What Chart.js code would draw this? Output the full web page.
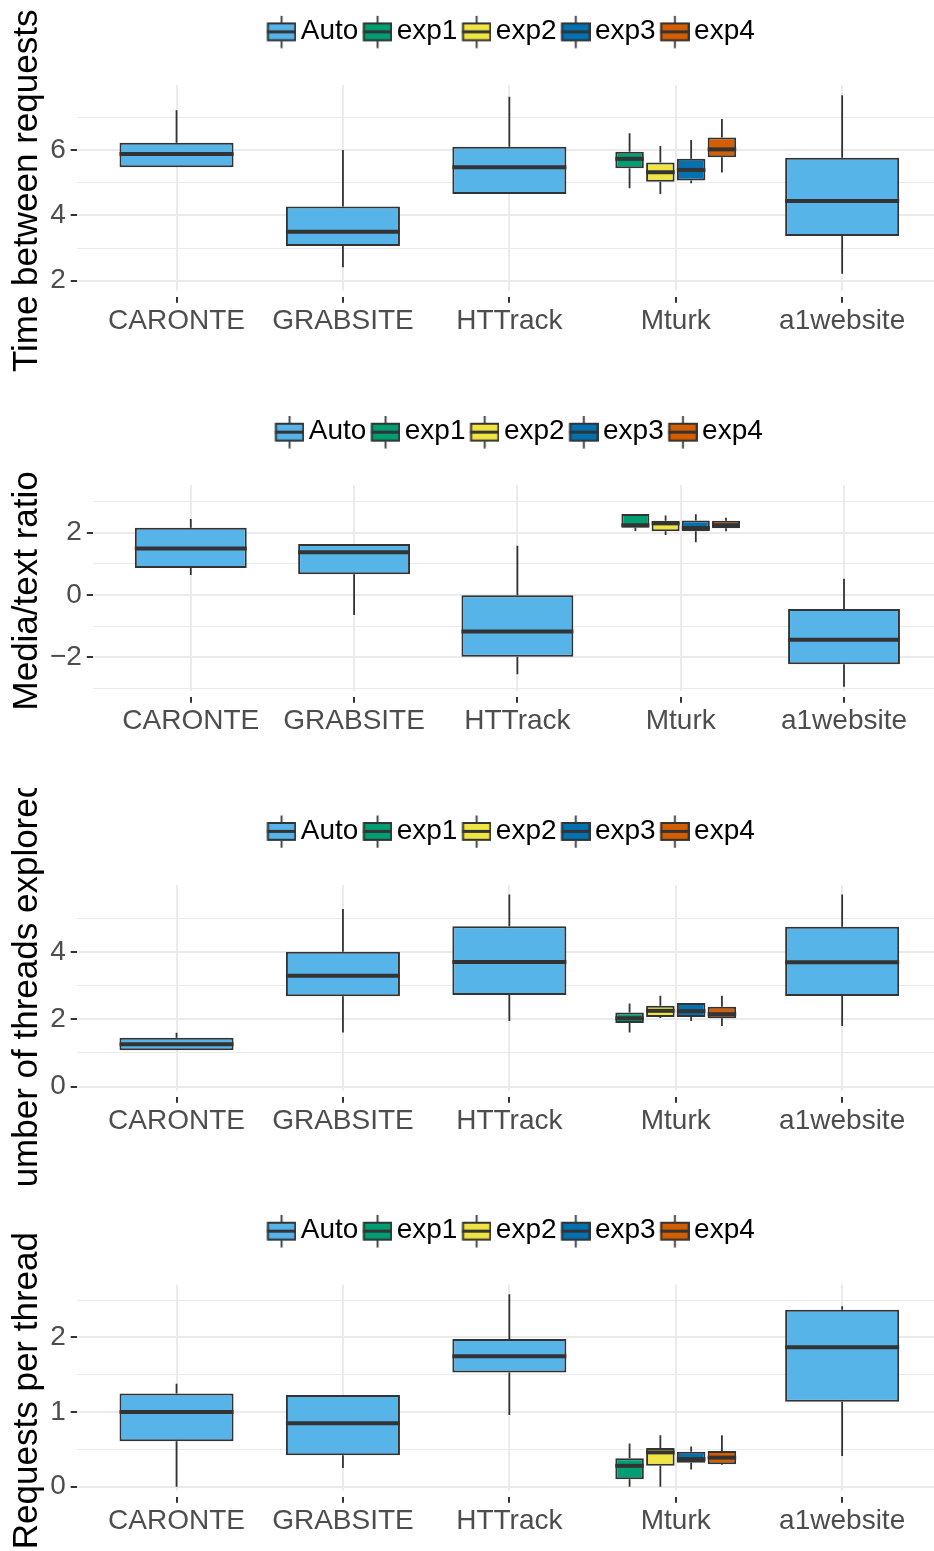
<!DOCTYPE html>
<html>
<head>
<meta charset="utf-8">
<title>Crawler comparison boxplots</title>
<script src="https://cdn.jsdelivr.net/npm/chart.js@4.4.1/dist/chart.umd.min.js"></script>
<style>
  html, body { margin: 0; padding: 0; background: #fff; }
  #wrap { position: relative; width: 934px; height: 1551px; overflow: hidden; background: #fff; }
  #wrap canvas { position: absolute; left: 0; }
</style>
</head>
<body>
<div id="wrap">
  <canvas id="chart-time" width="942" height="388" style="top:0px"></canvas>
  <canvas id="chart-media" width="942" height="400" style="top:388px"></canvas>
  <canvas id="chart-threads" width="942" height="400" style="top:788px"></canvas>
  <canvas id="chart-requests" width="942" height="363" style="top:1188px"></canvas>
</div>
<script>
(function () {
  const categories = ['CARONTE', 'GRABSITE', 'HTTrack', 'Mturk', 'a1website'];
  const groups = ['Auto', 'exp1', 'exp2', 'exp3', 'exp4'];
  const groupColors = ['#56B4E9', '#009E73', '#F0E442', '#0072B2', '#D55E00'];

  // one box = [lower whisker, q1, median, q3, upper whisker]
  // Auto has no Mturk box, Mturk only has exp1..exp4
  const timeAuto = [
    [5.47, 5.47, 5.88, 6.22, 7.22],
    [2.41, 3.06, 3.50, 4.27, 6.00],
    [4.65, 4.65, 5.47, 6.10, 7.63],
    null,
    [2.21, 3.37, 4.44, 5.76, 7.68],
  ];
  const timeMturk = [
    [4.83, 5.44, 5.73, 5.95, 6.51],
    [4.65, 5.03, 5.32, 5.62, 6.12],
    [4.98, 5.07, 5.39, 5.73, 6.31],
    [5.31, 5.78, 6.02, 6.38, 6.95],
  ];
  const timeRange = [1.51, 7.99];
  const timeMajor = [2, 4, 6];
  const timeLabels = ['2', '4', '6'];
  const timeMinor = [3, 5, 7];

  const mediaAuto = [
    [0.64, 0.87, 1.49, 2.16, 2.44],
    [-0.64, 0.67, 1.37, 1.64, 1.64],
    [-2.54, -1.98, -1.17, -0.01, 1.58],
    null,
    [-2.94, -2.22, -1.43, -0.45, 0.52],
  ];
  const mediaMturk = [
    [2.05, 2.16, 2.24, 2.60, 2.60],
    [1.93, 2.05, 2.30, 2.38, 2.55],
    [1.69, 2.05, 2.15, 2.39, 2.59],
    [2.05, 2.14, 2.24, 2.38, 2.48],
  ];
  const mediaRange = [-3.26, 3.53];
  const mediaMajor = [-2, 0, 2];
  const mediaLabels = ['\u22122', '0', '2'];
  const mediaMinor = [-3, -1, 1, 3];

  const threadsAuto = [
    [1.08, 1.08, 1.26, 1.45, 1.60],
    [1.61, 2.68, 3.29, 4.00, 5.27],
    [1.95, 2.72, 3.70, 4.76, 5.70],
    null,
    [1.80, 2.69, 3.69, 4.74, 5.70],
  ];
  const threadsMturk = [
    [1.61, 1.89, 2.03, 2.20, 2.47],
    [2.04, 2.07, 2.25, 2.40, 2.70],
    [1.95, 2.07, 2.24, 2.48, 2.48],
    [1.80, 2.03, 2.15, 2.37, 2.70],
  ];
  const threadsRange = [-0.296, 5.98];
  const threadsMajor = [0, 2, 4];
  const threadsLabels = ['0', '2', '4'];
  const threadsMinor = [1, 3, 5];

  const requestsAuto = [
    [0.00, 0.61, 1.00, 1.25, 1.38],
    [0.25, 0.42, 0.85, 1.23, 1.23],
    [0.96, 1.53, 1.75, 1.98, 2.58],
    null,
    [0.41, 1.14, 1.87, 2.37, 2.42],
  ];
  const requestsMturk = [
    [0.00, 0.10, 0.28, 0.38, 0.58],
    [0.00, 0.28, 0.46, 0.52, 0.69],
    [0.23, 0.32, 0.37, 0.47, 0.54],
    [0.29, 0.30, 0.39, 0.48, 0.69],
  ];
  const requestsRange = [-0.134, 2.71];
  const requestsMajor = [0, 1, 2];
  const requestsLabels = ['0', '1', '2'];
  const requestsMinor = [0.5, 1.5, 2.5];

  const LINE = '#333333';
  const GRID = '#EBEBEB';
  const TICK_TEXT = '#4D4D4D';
  const FONT = 28;
  const LEGEND_PAD = 1.6;
  const LEGEND_BOX = 22.8;
  const LEGEND_H = FONT + LEGEND_PAD + 10;

  Chart.defaults.font.family = "'Liberation Sans', Arial, Helvetica, sans-serif";
  Chart.defaults.color = TICK_TEXT;

  // layout of each panel inside its own canvas (chart area edges, legend offset)
  const panels = [
    {
      id: 'chart-time', title: 'Time between requests', auto: timeAuto, mturk: timeMturk,
      range: timeRange, major: timeMajor, labels: timeLabels, minor: timeMinor,
      height: 388, padTop: 15.8, top: 85, bottom: 296.7, left: 76.7,
    },
    {
      id: 'chart-media', title: 'Media/text ratio', auto: mediaAuto, mturk: mediaMturk,
      range: mediaRange, major: mediaMajor, labels: mediaLabels, minor: mediaMinor,
      height: 400, padTop: 28.1, top: 97, bottom: 308.7, left: 92.8,
    },
    {
      // trailing space keeps the clipped title where the original sits
      id: 'chart-threads', title: 'Number of threads explored ', auto: threadsAuto, mturk: threadsMturk,
      range: threadsRange, major: threadsMajor, labels: threadsLabels, minor: threadsMinor,
      height: 400, padTop: 27.4, top: 97, bottom: 308.7, left: 76.7,
    },
    {
      id: 'chart-requests', title: 'Requests per thread', auto: requestsAuto, mturk: requestsMturk,
      range: requestsRange, major: requestsMajor, labels: requestsLabels, minor: requestsMinor,
      height: 363, padTop: 27.1, top: 96.5, bottom: 308.7, left: 76.7,
    },
  ];

  // ggplot style legend key: small box with median and whisker stubs
  function legendKey(color) {
    const c = document.createElement('canvas');
    c.width = 42;
    c.height = 36;
    const g = c.getContext('2d');
    const x0 = 12.6;
    const w = 29.3;
    const top = 9;
    const h = 18.8;
    const cx = x0 + w / 2;
    g.strokeStyle = LINE;
    g.lineWidth = 1.8;
    g.beginPath();
    g.moveTo(cx, 2);
    g.lineTo(cx, top);
    g.moveTo(cx, top + h);
    g.lineTo(cx, 34.8);
    g.stroke();
    g.fillStyle = color;
    g.fillRect(x0, top, w, h);
    g.lineWidth = 2;
    g.strokeRect(x0 + 1, top + 1, w - 2, h - 2);
    g.lineWidth = 3;
    g.beginPath();
    g.moveTo(x0, top + h / 2);
    g.lineTo(x0 + w, top + h / 2);
    g.stroke();
    return c;
  }

  const legendKeys = groupColors.map(legendKey);

  const boxWhiskers = {
    id: 'boxWhiskers',
    afterDatasetsDraw(chart) {
      const ctx = chart.ctx;
      const yScale = chart.scales.y;
      ctx.save();
      ctx.strokeStyle = LINE;
      ctx.lineCap = 'butt';
      chart.data.datasets.forEach((ds, di) => {
        const meta = chart.getDatasetMeta(di);
        meta.data.forEach((bar, i) => {
          const s = ds.stats[i];
          if (!s) return;
          const { x, width } = bar.getProps(['x', 'width'], true);
          const [lo, q1, med, q3, hi] = s.map((v) => yScale.getPixelForValue(v));
          ctx.lineWidth = 1.8;
          ctx.beginPath();
          ctx.moveTo(x, q3);
          ctx.lineTo(x, hi);
          ctx.moveTo(x, q1);
          ctx.lineTo(x, lo);
          ctx.stroke();
          ctx.lineWidth = 4;
          ctx.beginPath();
          ctx.moveTo(x - width / 2, med);
          ctx.lineTo(x + width / 2, med);
          ctx.stroke();
        });
      });
      ctx.restore();
    },
  };

  function buildDatasets(auto, mturk) {
    return groups.map((name, gi) => {
      const stats = gi === 0
        ? auto
        : categories.map((c) => (c === 'Mturk' ? mturk[gi - 1] : null));
      return {
        label: name,
        stats,
        data: stats.map((s) => (s ? [s[1], s[3]] : null)),
        backgroundColor: groupColors[gi],
      };
    });
  }

  function renderPanel(p) {
    const ticks = p.major.concat(p.minor).sort((a, b) => a - b);
    const isMajor = (v) => p.major.indexOf(v) >= 0;

    new Chart(document.getElementById(p.id), {
      type: 'bar',
      data: { labels: categories, datasets: buildDatasets(p.auto, p.mturk) },
      options: {
        responsive: false,
        animation: false,
        devicePixelRatio: 1,
        events: [],
        layout: { padding: { top: p.padTop, left: 0, right: 0, bottom: 0 } },
        datasets: {
          bar: {
            skipNull: true,
            categoryPercentage: 0.74,
            barPercentage: 0.926,
            borderWidth: 2,
            borderColor: LINE,
            borderSkipped: false,
          },
        },
        plugins: {
          tooltip: { enabled: false },
          legend: {
            position: 'top',
            fullSize: false,
            labels: {
              usePointStyle: true,
              boxWidth: LEGEND_BOX,
              padding: LEGEND_PAD,
              color: '#000',
              font: { size: FONT },
              generateLabels: (chart) => chart.data.datasets.map((ds, i) => ({
                text: ds.label,
                pointStyle: legendKeys[i],
                fillStyle: ds.backgroundColor,
                strokeStyle: LINE,
                lineWidth: 0,
                rotation: 0,
                hidden: false,
                fontColor: '#000',
                datasetIndex: i,
              })),
            },
          },
          // empty title used as the gap between legend and panel
          title: {
            display: true,
            text: ' ',
            weight: 100,
            fullSize: false,
            font: { size: 1, lineHeight: 1 },
            padding: { top: p.top - p.padTop - LEGEND_H - 1, bottom: 0 },
          },
        },
        scales: {
          x: {
            afterBuildTicks: (scale) => {
              // ggplot expands discrete axes by 0.6 of a category on each side
              scale._startValue = -0.6;
              scale._valueRange = categories.length + 0.2;
            },
            afterFit: (scale) => { scale.height = p.height - p.bottom; },
            grid: {
              offset: false,
              color: GRID,
              lineWidth: 2,
              tickLength: 6,
              tickWidth: 2,
              tickColor: LINE,
            },
            border: { display: false, dash: [p.bottom - p.top - 6, 1000] },
            ticks: {
              autoSkip: false,
              maxRotation: 0,
              padding: 1.5,
              color: TICK_TEXT,
              font: { size: FONT },
            },
          },
          y: {
            min: p.range[0],
            max: p.range[1],
            afterBuildTicks: (scale) => { scale.ticks = ticks.map((v) => ({ value: v })); },
            afterFit: (scale) => { scale.width = p.left; },
            grid: {
              color: GRID,
              lineWidth: (ctx) => (isMajor(ctx.tick.value) ? 2 : 1),
              tickLength: 6,
              tickWidth: 2,
              tickColor: (ctx) => (isMajor(ctx.tick.value) ? LINE : 'rgba(0,0,0,0)'),
            },
            border: { display: false },
            ticks: {
              autoSkip: false,
              padding: 5,
              color: TICK_TEXT,
              font: { size: FONT },
              callback: (value) => {
                const idx = p.major.indexOf(value);
                return idx >= 0 ? p.labels[idx] : '';
              },
            },
            title: {
              display: true,
              text: p.title,
              color: '#000',
              font: { size: 35 },
              padding: { top: 6, bottom: 0 },
            },
          },
        },
      },
      plugins: [boxWhiskers],
    });
  }

  panels.forEach(renderPanel);
})();
</script>
</body>
</html>
